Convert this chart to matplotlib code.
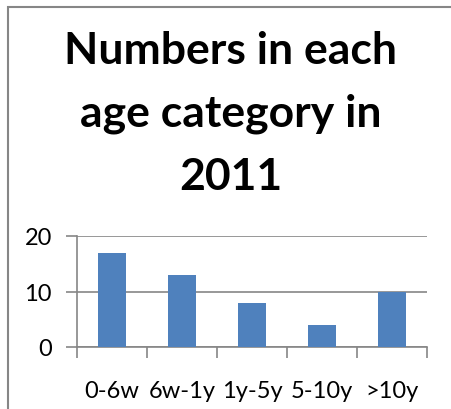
import matplotlib.pyplot as plt
from matplotlib.patches import Rectangle

categories = ['0-6w', '6w-1y', '1y-5y', '5-10y', '>10y']
counts = [17, 13, 8, 4, 10]
y_ticks = [0, 10, 20]
title = 'Numbers in each\nage category in\n2011'

W, H = 451, 410
grey = '#868686'

plt.rcParams['font.family'] = ['Lato', 'DejaVu Sans']

fig = plt.figure(figsize=(W / 100, H / 100), dpi=100)

# chart area border, only the top-left corner is in view
fig.patches.append(Rectangle((8 / W, -0.1), 1.2, 1 - 8 / H + 0.1, transform=fig.transFigure,
                             fill=False, edgecolor=grey, linewidth=1.5))

fig.text(231 / W, 1 - 114 / H, title, ha='center', va='center', fontsize=32,
         fontweight='bold', linespacing=1.7)

ax = fig.add_axes([77 / W, 1 - 348 / H, 350 / W, 111 / H])
x = range(len(categories))
ax.bar(x, counts, width=0.4, color='#4F81BD', zorder=3)

ax.set_xlim(-0.5, len(categories) - 0.5)
ax.set_ylim(0, 20)
ax.set_yticks(y_ticks)
ax.set_yticklabels([str(v) for v in y_ticks], fontsize=17)
ax.yaxis.grid(True, color=grey, linewidth=1.2)
ax.set_axisbelow(True)

# category labels sit between the boundary ticks
ax.set_xticks([i - 0.5 for i in range(len(categories) + 1)])
ax.set_xticklabels([])
ax.set_xticks(list(x), minor=True)
ax.set_xticklabels(categories, minor=True, fontsize=17)
ax.tick_params(axis='x', which='minor', length=0, pad=24)
ax.tick_params(axis='x', which='major', length=8, width=1.2, color=grey)
ax.tick_params(axis='y', length=8, width=1.2, color=grey, pad=10)

for side in ['top', 'right']:
    ax.spines[side].set_visible(False)
for side in ['left', 'bottom']:
    ax.spines[side].set_color(grey)
    ax.spines[side].set_linewidth(1.2)

fig.savefig('out.png', dpi=100)
